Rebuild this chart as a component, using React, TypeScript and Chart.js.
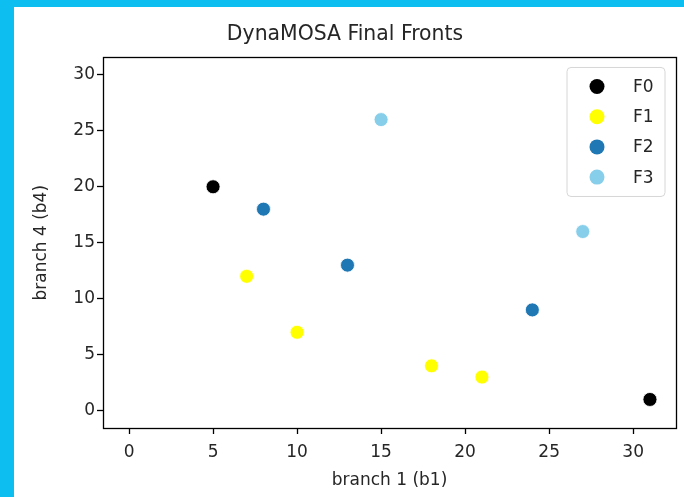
import React, { useEffect, useRef } from "react";
import { Chart, registerables } from "chart.js";

Chart.register(...registerables);

const titleText = "DynaMOSA Final Fronts";
const xLabel = "branch 1 (b1)";
const yLabel = "branch 4 (b4)";

const seriesNames = ["F0", "F1", "F2", "F3"];
const seriesColors = ["#000000", "#ffff00", "#1f77b4", "#87ceeb"];

const f0X = [5, 31];
const f0Y = [20, 1];
const f1X = [7, 10, 18, 21];
const f1Y = [12, 7, 4, 3];
const f2X = [8, 13, 24];
const f2Y = [18, 13, 9];
const f3X = [15, 27];
const f3Y = [26, 16];

const xTicks = [0, 5, 10, 15, 20, 25, 30];
const yTicks = [0, 5, 10, 15, 20, 25, 30];
const xRange = [-1.55, 32.55];
const yRange = [-1.55, 31.55];

const FONT = "'DejaVu Sans', sans-serif";
const TEXT = "#262626";

const seriesX = [f0X, f1X, f2X, f3X];
const seriesY = [f0Y, f1Y, f2Y, f3Y];

const framePlugin = {
  id: "frame",
  afterDatasetsDraw(chart: any) {
    const { ctx, chartArea } = chart;
    ctx.save();
    ctx.strokeStyle = "#000";
    ctx.lineWidth = 1.3;
    ctx.strokeRect(
      Math.round(chartArea.left) + 0.5,
      Math.round(chartArea.top) + 0.5,
      Math.round(chartArea.right - chartArea.left),
      Math.round(chartArea.bottom - chartArea.top)
    );
    ctx.restore();
  },
};

const legendPlugin = {
  id: "boxLegend",
  afterDraw(chart: any) {
    const { ctx, chartArea } = chart;
    const right = chartArea.right - 11;
    const top = chartArea.top + 10;
    const w = 98;
    const h = 129;
    const left = right - w;
    ctx.save();
    ctx.beginPath();
    const r = 4;
    ctx.moveTo(left + r, top);
    ctx.lineTo(left + w - r, top);
    ctx.arcTo(left + w, top, left + w, top + r, r);
    ctx.lineTo(left + w, top + h - r);
    ctx.arcTo(left + w, top + h, left + w - r, top + h, r);
    ctx.lineTo(left + r, top + h);
    ctx.arcTo(left, top + h, left, top + h - r, r);
    ctx.lineTo(left, top + r);
    ctx.arcTo(left, top, left + r, top, r);
    ctx.closePath();
    ctx.fillStyle = "rgba(255,255,255,0.8)";
    ctx.fill();
    ctx.strokeStyle = "#d6d6d6";
    ctx.lineWidth = 1;
    ctx.stroke();
    ctx.font = `17px ${FONT}`;
    ctx.textBaseline = "middle";
    ctx.textAlign = "left";
    chart.data.datasets.forEach((ds: any, i: number) => {
      const cy = top + 19 + i * 30.2;
      ctx.beginPath();
      ctx.arc(left + 30, cy, 7.5, 0, Math.PI * 2);
      ctx.fillStyle = ds.backgroundColor;
      ctx.fill();
      ctx.fillStyle = TEXT;
      ctx.fillText(ds.label, left + 66, cy + 1);
    });
    ctx.restore();
  },
};

export default function App() {
  const ref = useRef<HTMLCanvasElement | null>(null);

  useEffect(() => {
    if (!ref.current) return;
    const datasets = seriesNames.map((name, i) => ({
      label: name,
      data: seriesX[i].map((x, j) => ({ x, y: seriesY[i][j] })),
      backgroundColor: seriesColors[i],
      borderColor: "#ffffff",
      borderWidth: 0.8,
      pointRadius: 7,
      pointHoverRadius: 7,
    }));
    const chart = new Chart(ref.current, {
      type: "scatter",
      data: { datasets },
      options: {
        responsive: false,
        animation: false,
        devicePixelRatio: 1,
        layout: { padding: { left: 14, right: 8, top: 0, bottom: 0 } },
        plugins: {
          legend: { display: false },
          tooltip: { enabled: false },
          title: {
            display: true,
            text: titleText,
            color: TEXT,
            font: { family: FONT, size: 20.4, weight: "normal", lineHeight: 1.2 },
            padding: { top: 22, bottom: 11 },
          },
        },
        scales: {
          x: {
            type: "linear",
            min: xRange[0],
            max: xRange[1],
            afterBuildTicks: (s: any) => {
              s.ticks = xTicks.map((v) => ({ value: v }));
            },
            afterFit: (s: any) => {
              s.height = 69;
            },
            ticks: {
              stepSize: 5,
              includeBounds: false,
              color: TEXT,
              padding: 8,
              maxRotation: 0,
              font: { family: FONT, size: 17 },
            },
            grid: {
              display: true,
              drawOnChartArea: false,
              drawTicks: true,
              tickLength: 6,
              tickColor: "#000",
              tickWidth: 1.3,
            },
            border: { display: false },
            title: {
              display: true,
              text: xLabel,
              color: TEXT,
              font: { family: FONT, size: 17, lineHeight: 1.2 },
              padding: { top: 0, bottom: 6 },
            },
          },
          y: {
            type: "linear",
            min: yRange[0],
            max: yRange[1],
            afterBuildTicks: (s: any) => {
              s.ticks = yTicks.map((v) => ({ value: v }));
            },
            afterFit: (s: any) => {
              s.width = 89;
            },
            ticks: {
              stepSize: 5,
              includeBounds: false,
              color: TEXT,
              padding: 2,
              font: { family: FONT, size: 17 },
            },
            grid: {
              display: true,
              drawOnChartArea: false,
              drawTicks: true,
              tickLength: 6,
              tickColor: "#000",
              tickWidth: 1.3,
            },
            border: { display: false },
            title: {
              display: true,
              text: yLabel,
              color: TEXT,
              font: { family: FONT, size: 17, lineHeight: 1.2 },
              padding: { top: 17, bottom: 0 },
            },
          },
        },
      } as any,
      plugins: [framePlugin, legendPlugin],
    });
    return () => chart.destroy();
  }, []);

  return (
    <div
      style={{
        position: "fixed",
        left: 0,
        top: 0,
        width: 684,
        height: 497,
        background: "#0cbff0",
        overflow: "hidden",
      }}
    >
      <div
        style={{
          position: "absolute",
          left: 14,
          top: 7,
          right: 0,
          bottom: 0,
          background: "#ffffff",
        }}
      />
      <canvas
        ref={ref}
        width={684}
        height={497}
        style={{ position: "absolute", left: 0, top: 0, width: 684, height: 497 }}
      />
    </div>
  );
}
